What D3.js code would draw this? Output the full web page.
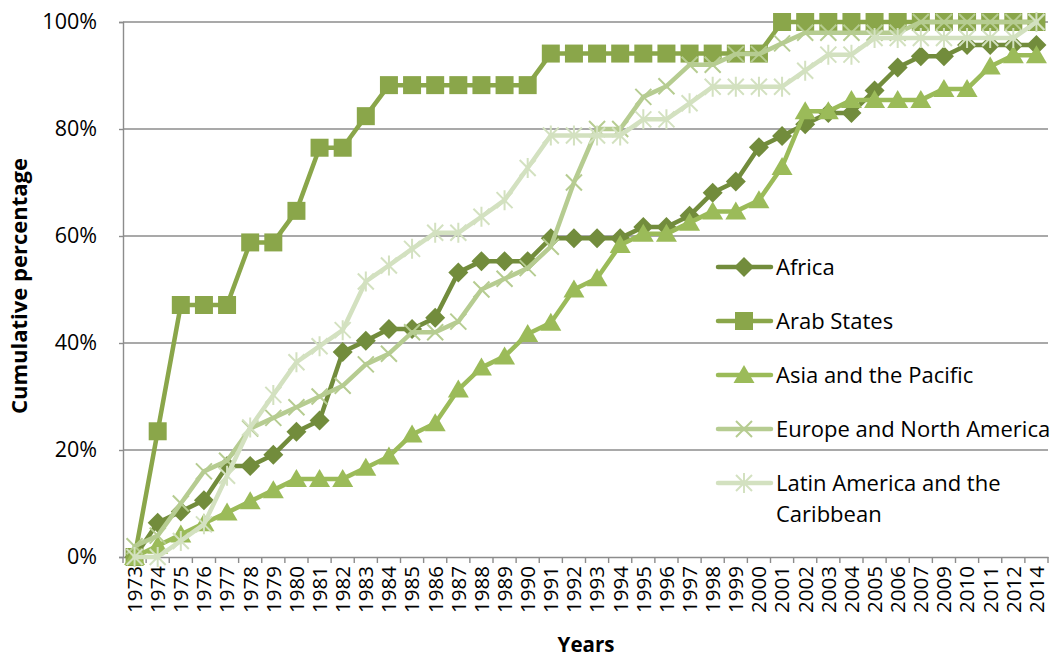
<!DOCTYPE html>
<html>
<head>
<meta charset="utf-8">
<script src="https://cdn.jsdelivr.net/npm/d3@7"></script>
<style>
  html, body { margin: 0; padding: 0; background: #fff; }
  svg { display: block; font-family: "Open Sans", "Noto Sans", sans-serif; }
</style>
</head>
<body>
<svg id="chart" width="1057" height="657"></svg>
<script>
// ---- data (cumulative percentage) ----
const years = ["1973","1974","1975","1976","1977","1978","1979","1980","1981","1982","1983","1984","1985","1986","1987","1988","1989","1990","1991","1992","1993","1994","1995","1996","1997","1998","1999","2000","2001","2002","2003","2004","2005","2006","2007","2009","2010","2011","2012","2014"];
const africa = [0, 6.4, 8.5, 10.6, 17.0, 17.0, 19.1, 23.4, 25.5, 38.3, 40.4, 42.6, 42.6, 44.7, 53.2, 55.3, 55.3, 55.3, 59.6, 59.6, 59.6, 59.6, 61.7, 61.7, 63.8, 68.1, 70.2, 76.6, 78.7, 80.9, 83.0, 83.0, 87.2, 91.5, 93.6, 93.6, 95.7, 95.7, 95.7, 95.7];
const arabStates = [0, 23.5, 47.1, 47.1, 47.1, 58.8, 58.8, 64.7, 76.5, 76.5, 82.4, 88.2, 88.2, 88.2, 88.2, 88.2, 88.2, 88.2, 94.1, 94.1, 94.1, 94.1, 94.1, 94.1, 94.1, 94.1, 94.1, 94.1, 100, 100, 100, 100, 100, 100, 100, 100, 100, 100, 100, 100];
const asiaPacific = [0, 2.1, 4.2, 6.3, 8.3, 10.4, 12.5, 14.6, 14.6, 14.6, 16.7, 18.8, 22.9, 25.0, 31.3, 35.4, 37.5, 41.7, 43.8, 50.0, 52.1, 58.3, 60.4, 60.4, 62.5, 64.6, 64.6, 66.7, 72.9, 83.3, 83.3, 85.4, 85.4, 85.4, 85.4, 87.5, 87.5, 91.7, 93.8, 93.8];
const europeNA = [2, 4, 10, 16, 18, 24, 26, 28, 30, 32, 36, 38, 42, 42, 44, 50, 52, 54, 58, 70, 80, 80, 86, 88, 92, 92, 94, 94, 96, 98, 98, 98, 98, 98, 100, 100, 100, 100, 100, 100];
const latinAmerica = [0, 0, 3.0, 6.1, 15.2, 24.2, 30.3, 36.4, 39.4, 42.4, 51.5, 54.5, 57.6, 60.6, 60.6, 63.6, 66.7, 72.7, 78.8, 78.8, 78.8, 78.8, 81.8, 81.8, 84.8, 87.9, 87.9, 87.9, 87.9, 90.9, 93.9, 93.9, 97.0, 97.0, 97.0, 97.0, 97.0, 97.0, 97.0, 100];
const seriesNames = ["Africa", "Arab States", "Asia and the Pacific", "Europe and North America", "Latin America and the Caribbean"];
const yTicks = [0, 20, 40, 60, 80, 100];

// ---- styling ----
const colors = ["#728C3C", "#8AA64A", "#9BBB59", "#B6CC91", "#D3E1C0"];
const markers = ["diamond", "square", "triangle", "cross", "asterisk"];
const seriesValues = [africa, arabStates, asiaPacific, europeNA, latinAmerica];

const svg = d3.select("#chart");
const pL = 123, pR = 1048, pT = 22, pB = 557;

const x = d3.scaleBand().domain(years).range([pL, pR]).paddingInner(0).paddingOuter(0);
const y = d3.scaleLinear().domain([0, 100]).range([pB, pT]);
const cx = d => x(d) + x.bandwidth() / 2;

// gridlines
svg.append("g").selectAll("line").data(yTicks.filter(t => t > 0)).join("line")
  .attr("x1", pL).attr("x2", pR)
  .attr("y1", d => y(d)).attr("y2", d => y(d))
  .attr("stroke", "#8c8c8c").attr("stroke-width", 1.4);

// y axis
const yAxis = svg.append("g").attr("transform", `translate(${pL},0)`)
  .call(d3.axisLeft(y).tickValues(yTicks).tickFormat(d => d + "%").tickSize(4).tickPadding(22));
yAxis.select(".domain").attr("stroke", "#8c8c8c").attr("stroke-width", 1.4);
yAxis.selectAll(".tick line").attr("stroke", "#8c8c8c").attr("stroke-width", 1.4);
yAxis.selectAll(".tick text").attr("font-size", 21.5).attr("fill", "#000").attr("font-family", "Open Sans");

// x axis
const xAxis = svg.append("g").attr("transform", `translate(0,${pB})`)
  .call(d3.axisBottom(x).tickSize(0).tickPadding(0));
xAxis.select(".domain").attr("stroke", "#8c8c8c").attr("stroke-width", 1.4);
xAxis.selectAll(".tick text")
  .attr("transform", "rotate(-90)")
  .attr("x", -9).attr("y", 0).attr("dy", "0.36em")
  .style("text-anchor", "end")
  .attr("font-size", 20.5).attr("fill", "#000").attr("font-family", "Open Sans");
// category boundary ticks
const bounds = years.map(d => x(d)).concat([x(years[years.length - 1]) + x.bandwidth()]);
svg.append("g").selectAll("line").data(bounds).join("line")
  .attr("x1", d => d).attr("x2", d => d)
  .attr("y1", pB).attr("y2", pB + 6)
  .attr("stroke", "#8c8c8c").attr("stroke-width", 1.4);

// marker paths
function markerPath(type) {
  switch (type) {
    case "diamond": return "M0,-10L10,0L0,10L-10,0Z";
    case "square": return "M-9,-9H9V9H-9Z";
    case "triangle": return "M0,-10L10.5,8L-10.5,8Z";
    case "cross": return "M-8,-8L8,8M-8,8L8,-8";
    case "asterisk": return "M-8,-8L8,8M-8,8L8,-8M0,-10V10";
  }
}
const filled = t => t === "diamond" || t === "square" || t === "triangle";

const line = d3.line().x(d => cx(d.year)).y(d => y(d.value));

seriesValues.forEach((vals, i) => {
  const pts = years.map((yr, j) => ({ year: yr, value: vals[j] }));
  const g = svg.append("g");
  g.append("path").datum(pts)
    .attr("d", line).attr("fill", "none")
    .attr("stroke", colors[i]).attr("stroke-width", 4.5)
    .attr("stroke-linejoin", "round").attr("stroke-linecap", "round");
  g.selectAll("path.m").data(pts).join("path").attr("class", "m")
    .attr("transform", d => `translate(${cx(d.year)},${y(d.value)})`)
    .attr("d", markerPath(markers[i]))
    .attr("fill", filled(markers[i]) ? colors[i] : "none")
    .attr("stroke", colors[i])
    .attr("stroke-width", filled(markers[i]) ? 0 : 2);
});

// legend
const legendY = [267, 321, 375, 429, 483];
const lg = svg.append("g");
seriesNames.forEach((name, i) => {
  const yy = legendY[i];
  lg.append("line").attr("x1", 718).attr("x2", 771).attr("y1", yy).attr("y2", yy)
    .attr("stroke", colors[i]).attr("stroke-width", 4.5).attr("stroke-linecap", "round");
  lg.append("path").attr("transform", `translate(744,${yy})`)
    .attr("d", markerPath(markers[i]))
    .attr("fill", filled(markers[i]) ? colors[i] : "none")
    .attr("stroke", colors[i]).attr("stroke-width", filled(markers[i]) ? 0 : 2);
  const t = lg.append("text").attr("x", 776).attr("y", yy).attr("dy", "0.35em")
    .attr("font-size", 22).attr("fill", "#000");
  if (name === "Latin America and the Caribbean") {
    t.text("Latin America and the");
    lg.append("text").attr("x", 776).attr("y", yy + 31).attr("dy", "0.35em")
      .attr("font-size", 22).attr("fill", "#000").text("Caribbean");
  } else {
    t.text(name);
  }
});

// axis titles
svg.append("text").attr("transform", "translate(19,286) rotate(-90)")
  .attr("text-anchor", "middle").attr("dy", "0.35em")
  .attr("font-size", 22).attr("font-weight", "bold").text("Cumulative percentage");
svg.append("text").attr("x", 586).attr("y", 645).attr("dy", "0.35em")
  .attr("text-anchor", "middle")
  .attr("font-size", 20.5).attr("font-weight", "bold").text("Years");
</script>
</body>
</html>
